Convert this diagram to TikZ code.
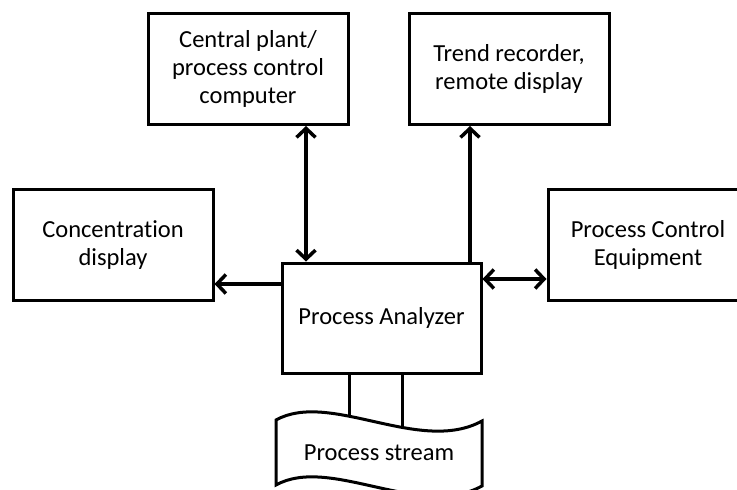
\documentclass[tikz,border=0pt]{standalone}
\usepackage{fontspec}
\setmainfont{Carlito}[Ligatures=NoCommon]
\usetikzlibrary{arrows.meta,backgrounds}

\tikzset{
  labelfont/.style={font=\fontsize{24.5}{28}\selectfont},
  blockbox/.style={draw, line width=3pt, fill=white, minimum width=200pt,
    minimum height=111pt, inner sep=0pt, align=center, labelfont},
  link/.style={line width=3.5pt},
}

\begin{document}
\begin{tikzpicture}[x=1pt,y=-1pt]
  \useasboundingbox (0,0) rectangle (737,490);
  \clip (0,0) rectangle (737,490);

  % blocks
  \node[blockbox] (central) at (248,69) {Central plant/\\process control\\computer};
  \node[blockbox] (trend)   at (509,69) {Trend recorder,\\remote display};
  \node[blockbox] (conc)    at (113,245) {Concentration\\display};
  \node[blockbox] (pce)     at (648,245) {Process Control\\Equipment};
  \node[blockbox, minimum width=199pt, minimum height=110pt] (analyzer) at (381.5,318) {Process Analyzer};

  % process stream tape
  \draw[line width=3pt, fill=white]
    (276,420) .. controls (330,390) and (420,455) .. (482,421)
    -- (482,486) .. controls (420,520) and (330,455) .. (276,485) -- cycle;
  \node[labelfont, inner sep=2pt] (stream) at (379,453) {Process stream};

  % guide coordinates for the connector positions
  \coordinate (xc) at (306,0);
  \coordinate (xt) at (470,0);
  \coordinate (yl) at (0,284);
  \coordinate (yr) at (0,279);
  \coordinate (xs1) at (349,0);
  \coordinate (xs2) at (402,0);

  % connectors
  \draw[link, {Straight Barb[length=9pt,width=19pt]}-{Straight Barb[length=9pt,width=19pt]}]
    (central.south -| xc) -- (analyzer.north -| xc);
  \draw[link, -{Straight Barb[length=9pt,width=19pt]}]
    (analyzer.north -| xt) -- (trend.south -| xt);
  \draw[link, -{Straight Barb[length=9pt,width=19pt]}]
    (analyzer.west |- yl) -- (conc.east |- yl);
  \draw[link, {Straight Barb[length=9pt,width=19pt]}-{Straight Barb[length=9pt,width=19pt]}]
    (analyzer.east |- yr) -- (pce.west |- yr);

  % sample lines into the stream, running under the tape
  \begin{scope}[on background layer]
    \draw[line width=3pt] (analyzer.south -| xs1) -- (stream.north -| xs1);
    \draw[line width=3pt] (analyzer.south -| xs2) -- (stream.north -| xs2);
  \end{scope}
\end{tikzpicture}
\end{document}
